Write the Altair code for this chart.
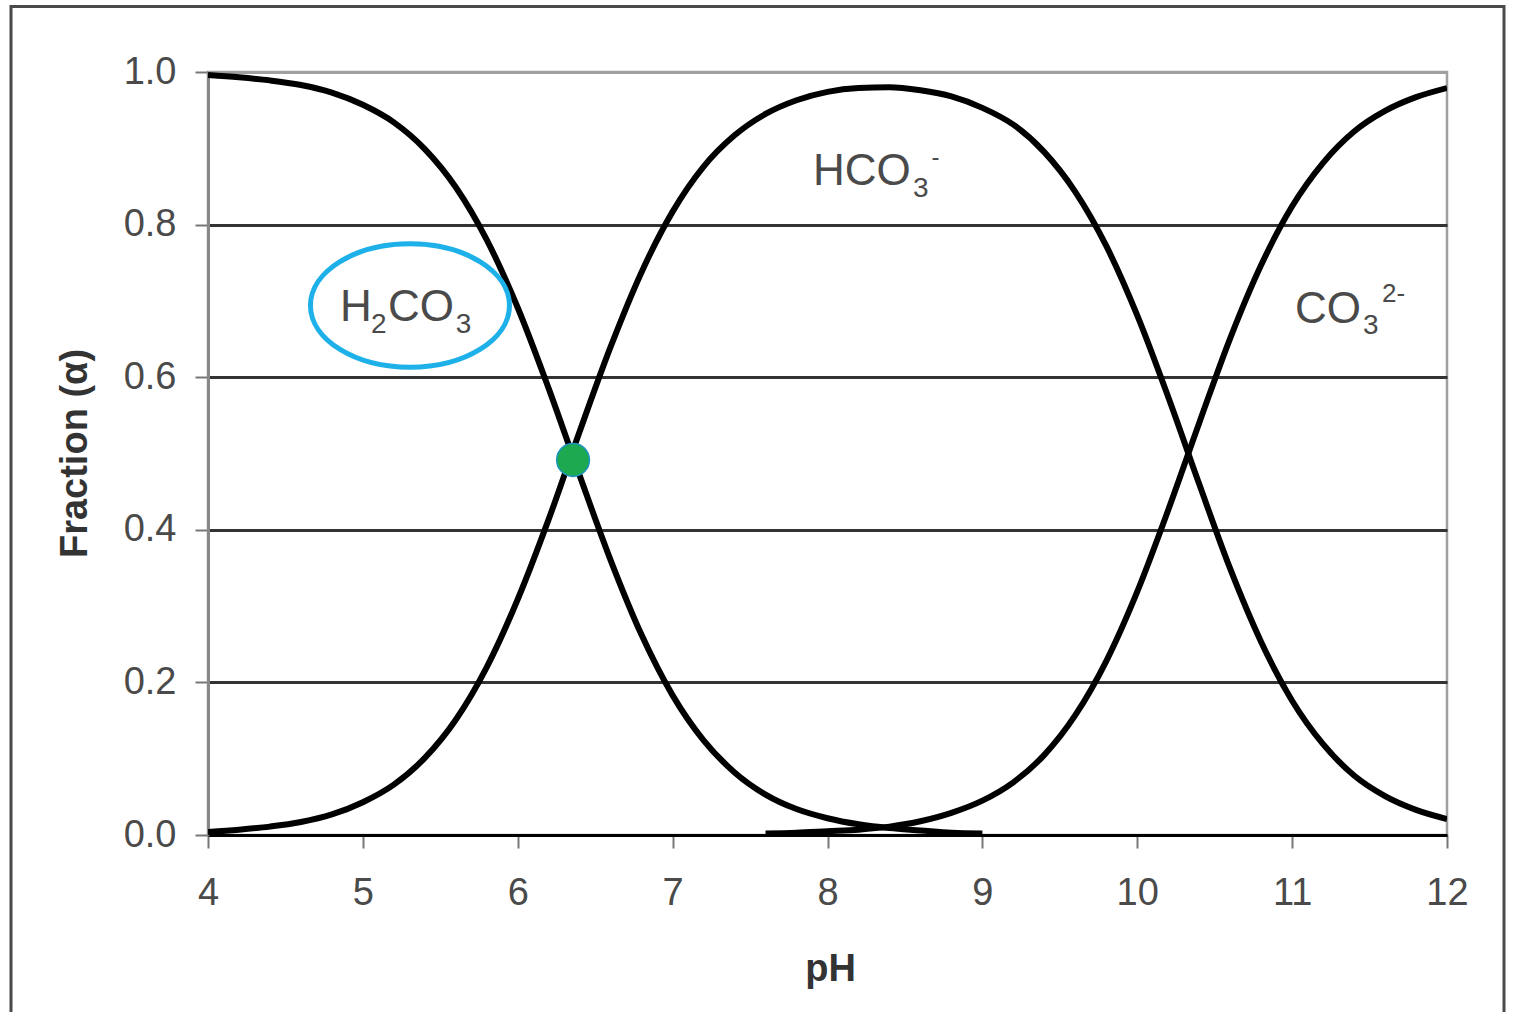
import altair as alt
import pandas as pd

# Carbonate speciation: fraction of each species versus pH
ph_h2co3 = [4.0, 4.2, 4.4, 4.6, 4.8, 5.0, 5.2, 5.4, 5.6, 5.8, 6.0, 6.2, 6.4,
            6.6, 6.8, 7.0, 7.2, 7.4, 7.6, 7.8, 8.0, 8.2, 8.4, 8.6, 8.8, 9.0]
h2co3 = [0.996, 0.993, 0.989, 0.983, 0.973, 0.957, 0.934, 0.899, 0.849, 0.780,
         0.691, 0.585, 0.471, 0.360, 0.262, 0.183, 0.124, 0.082, 0.053, 0.034,
         0.022, 0.014, 0.009, 0.006, 0.003, 0.002]

ph_hco3 = [4.0, 4.2, 4.4, 4.6, 4.8, 5.0, 5.2, 5.4, 5.6, 5.8, 6.0, 6.2, 6.4, 6.6,
           6.8, 7.0, 7.2, 7.4, 7.6, 7.8, 8.0, 8.2, 8.4, 8.6, 8.8, 9.0, 9.2, 9.4,
           9.6, 9.8, 10.0, 10.2, 10.4, 10.6, 10.8, 11.0, 11.2, 11.4, 11.6, 11.8, 12.0]
hco3 = [0.004, 0.007, 0.011, 0.017, 0.027, 0.043, 0.066, 0.101, 0.151, 0.220,
        0.309, 0.414, 0.529, 0.640, 0.738, 0.817, 0.876, 0.917, 0.945, 0.963,
        0.974, 0.979, 0.980, 0.976, 0.968, 0.953, 0.931, 0.895, 0.843, 0.772,
        0.681, 0.574, 0.460, 0.349, 0.253, 0.176, 0.119, 0.078, 0.051, 0.033, 0.021]

ph_co3 = [7.6, 7.8, 8.0, 8.2, 8.4, 8.6, 8.8, 9.0, 9.2, 9.4, 9.6, 9.8, 10.0,
          10.2, 10.4, 10.6, 10.8, 11.0, 11.2, 11.4, 11.6, 11.8, 12.0]
co3 = [0.002, 0.003, 0.005, 0.007, 0.011, 0.018, 0.029, 0.045, 0.069, 0.105,
       0.157, 0.228, 0.319, 0.426, 0.540, 0.651, 0.747, 0.824, 0.881, 0.922,
       0.949, 0.967, 0.979]

# First equivalence point (H2CO3 = HCO3-)
pka1_point = {"pH": 6.357, "fraction": 0.4915}

rows = []
for name, xs, ys in [("H2CO3", ph_h2co3, h2co3),
                     ("HCO3-", ph_hco3, hco3),
                     ("CO3 2-", ph_co3, co3)]:
    rows += [{"species": name, "pH": x, "fraction": y} for x, y in zip(xs, ys)]
df = pd.DataFrame(rows)

FONT = "Liberation Sans"
LABEL_GRAY = "#4a4a4a"
W, H = 1239, 763

x_scale = alt.Scale(domain=[4, 12], nice=False, zero=False)
y_scale = alt.Scale(domain=[0, 1], nice=False)

x_axis = alt.Axis(
    values=list(range(4, 13)), format="d", grid=False, labelFlush=False,
    domainColor="black", domainWidth=3,
    tickColor="#777", tickWidth=2, tickSize=13,
    labelFont=FONT, labelFontSize=38, labelColor=LABEL_GRAY, labelPadding=26,
    title="pH", titleFont=FONT, titleFontSize=38, titleFontWeight="bold",
    titleColor="#333", titleX=622, titleY=145, titleBaseline="alphabetic",
    titleAlign="center",
)
y_axis = alt.Axis(
    values=[0, 0.2, 0.4, 0.6, 0.8, 1.0], format=".1f", labelFlush=False,
    grid=True,
    gridColor={"condition": {"test": "datum.value >= 1 || datum.value <= 0", "value": "#a0a0a0"},
               "value": "#333333"},
    gridWidth=3,
    domainColor="#888", domainWidth=3,
    tickColor="#777", tickWidth=2, tickSize=13,
    labelFont=FONT, labelFontSize=38, labelColor=LABEL_GRAY, labelPadding=19,
    title="Fraction (α)", titleFont=FONT, titleFontSize=38, titleFontWeight="bold",
    titleColor="#333", titleAngle=-90, titleX=-133, titleY=381,
    titleAlign="center", titleBaseline="middle",
)

curves = alt.Chart(df).mark_line(
    color="black", strokeWidth=6, interpolate="monotone", clip=True
).encode(
    x=alt.X("pH:Q", scale=x_scale, axis=x_axis),
    y=alt.Y("fraction:Q", scale=y_scale, axis=y_axis),
    detail="species:N",
)

one = alt.Data(values=[{}])


def label(text, x, y, size):
    return alt.Chart(one).mark_text(
        text=text, font=FONT, fontSize=size, color=LABEL_GRAY,
        align="left", baseline="alphabetic",
    ).encode(x=alt.datum(x, scale=x_scale), y=alt.datum(y, scale=y_scale))


labels = [
    # H2CO3
    label("H", 4.852, 0.674, 44),
    label("2", 5.052, 0.658, 28),
    label("CO", 5.162, 0.674, 44),
    label("3", 5.600, 0.658, 28),
    # HCO3-
    label("HCO", 7.906, 0.852, 44),
    label("3", 8.552, 0.836, 28),
    label("-", 8.672, 0.878, 24),
    # CO3 2-
    label("CO", 11.019, 0.671, 44),
    label("3", 11.458, 0.657, 28),
    label("2-", 11.580, 0.699, 26),
]

# Highlight ring around the H2CO3 label
ellipse_path = ("M -1 0 C -1 -0.342 -0.552 -0.62 0 -0.62 C 0.552 -0.62 1 -0.342 1 0 "
                "C 1 0.342 0.552 0.62 0 0.62 C -0.552 0.62 -1 0.342 -1 0 Z")
ring = alt.Chart(one).mark_point(
    shape=ellipse_path, size=199 * 199, filled=False,
    stroke="#1EB0E8", strokeWidth=5, opacity=1,
).encode(x=alt.datum(5.304, scale=x_scale), y=alt.datum(0.694, scale=y_scale))

dot = alt.Chart(alt.Data(values=[pka1_point])).mark_point(
    shape="circle", size=1075, filled=True, fill="#1DA94F", fillOpacity=1,
    stroke="#1F93BF", strokeWidth=1.5, opacity=1,
).encode(x=alt.X("pH:Q", scale=x_scale), y=alt.Y("fraction:Q", scale=y_scale))

# Outer border around the whole figure
frame = alt.Chart(one).mark_rect(
    fill="transparent", stroke="#4a4a4a", strokeWidth=3,
).encode(x=alt.value(-197), x2=alt.value(1296), y=alt.value(-65.5), y2=alt.value(1060))

chart = alt.layer(frame, curves, *labels, ring, dot).properties(
    width=W, height=H,
    autosize=alt.AutoSizeParams(type="none"),
    padding={"left": 208, "top": 72, "right": 1514 - 208 - W, "bottom": 1012 - 72 - H},
    background="white",
).configure_view(stroke="#a0a0a0", strokeWidth=2.5)

chart.save("out.html", embed_options={"renderer": "svg", "actions": False})
